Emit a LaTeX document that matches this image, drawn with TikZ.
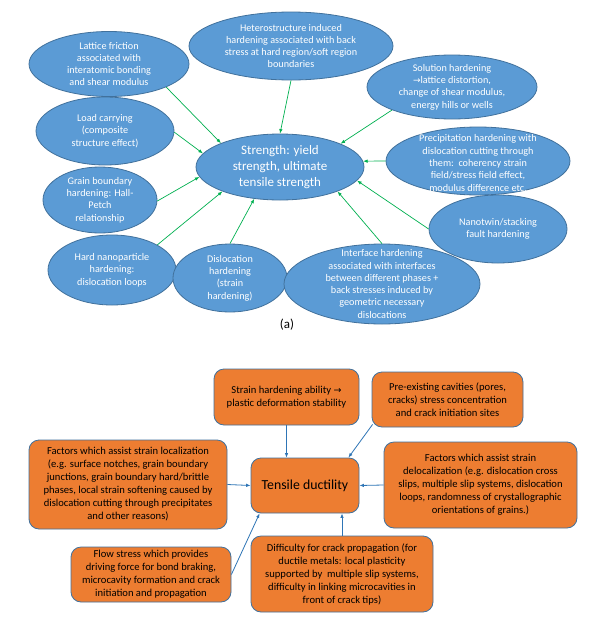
\documentclass[tikz,border=0pt]{standalone}
\usepackage{fontspec}
\setmainfont{Carlito}
\newfontfamily\symfont{DejaVu Sans}
\usetikzlibrary{shapes.geometric,arrows.meta}
\definecolor{ellfill}{HTML}{5B9BD5}
\definecolor{elldraw}{HTML}{41719C}
\definecolor{boxfill}{HTML}{ED7D31}
\definecolor{boxdraw}{HTML}{41719C}
\definecolor{garrow}{HTML}{00B050}
\definecolor{barrow}{HTML}{2E75B6}
\tikzset{
  ell/.style 2 args={ellipse, draw=elldraw, fill=ellfill, line width=0.8pt,
    minimum width=#1, minimum height=#2, inner sep=0pt},
  etext/.style={text=white, align=center, inner sep=0pt,
    font=\fontsize{10.2}{12.3}\selectfont},
  ctext/.style={text=white, align=center, inner sep=0pt,
    font=\fontsize{13}{16}\selectfont},
  obox/.style 2 args={rectangle, rounded corners=10pt, draw=boxdraw, fill=boxfill,
    line width=0.8pt, minimum width=#1, minimum height=#2, inner sep=1pt,
    align=center, text=black, font=\fontsize{10.6}{13}\selectfont},
  garr/.style={draw=garrow, line width=0.7pt, -{Latex[length=4.5pt,width=3.5pt]}},
  barr/.style={draw=barrow, line width=0.8pt, -{Latex[length=4.5pt,width=3.5pt]}},
}
\begin{document}
\begin{tikzpicture}[x=1pt,y=-1pt]
\useasboundingbox (0,0) rectangle (591,624);
\fill[white] (0,0) rectangle (591,624);

% ---- part (a): ellipses ----
\node[ell={160pt}{65pt}] (lat) at (109,64) {};
\node[etext] (latT) at (lat) {Lattice friction\\associated with\\interatomic bonding\\and shear modulus};

\node[ell={204pt}{68pt}] (het) at (291,46) {};
\node[etext] (hetT) at (het) {Heterostructure induced\\hardening associated with back\\stress at hard region/soft region\\boundaries};

\node[ell={170pt}{64pt}] (sol) at (452,87) {};
\node[etext] (solT) at (sol) {Solution hardening\\{\symfont\fontsize{9}{12.3}\selectfont →}lattice distortion,\\change of shear modulus,\\energy hills or wells};

\node[ell={138pt}{68pt}] (load) at (105,131) {};
\node[etext] (loadT) at (load) {Load carrying\\(composite\\structure effect)};

\node[ell={168pt}{66pt}] (str) at (280,167) {};
\node[ctext] (strT) at (str) {Strength: yield\\strength, ultimate\\tensile strength};

\node[ell={184pt}{68pt}] (pre) at (478,161) {};
\node[etext] (preT) at ([yshift=-2pt]pre.center) {Precipitation hardening with\\dislocation cutting through\\them:\ \ coherency strain\\field/stress field effect,\\modulus difference etc.};

\node[ell={114pt}{66pt}] (gb) at (100,200) {};
\node[etext] (gbT) at (gb) {Grain boundary\\hardening: Hall-\\Petch\\relationship};

\node[ell={128pt}{70pt}] (hn) at (112,270) {};
\node[etext] (hnT) at (hn) {Hard nanoparticle\\hardening:\\dislocation loops};

\node[ell={114pt}{68pt}] (dis) at (230,278) {};
\node[etext] (disT) at (dis) {Dislocation\\hardening\\(strain\\hardening)};

\node[ell={138pt}{68pt}] (nt) at (498,229) {};
\node[etext] (ntT) at (nt) {Nanotwin/stacking\\fault hardening};

\node[ell={196pt}{80pt}] (itf) at (382,284) {};
\node[etext] (itfT) at (itf) {Interface hardening\\associated with interfaces\\between different phases +\\back stresses induced by\\geometric necessary\\dislocations};

\node[font=\fontsize{13}{15}\selectfont, inner sep=0pt] (la) at (287,325) {(a)};

% ---- part (a): green arrows ----
\draw[garr] (lat.-22) -- (str.158);
\draw[garr] (het.-90) -- (str.90);
\draw[garr] (load.-1) -- (str.170);
\draw[garr] (sol.201) -- (str.21);
\draw[garr] (pre.180) -- (str.4);
\draw[garr] (gb.-1) -- (str.187);
\draw[garr] (hn.29) -- (str.203);
\draw[garr] (dis.90) -- (str.231);
\draw[garr] (itf.90) -- (str.-23);
\draw[garr] (nt.180) -- (str.-10);

% ---- part (b): boxes ----
\node[obox={145pt}{56pt}] (sh) at (286.5,397) {Strain hardening ability {\symfont\fontsize{9.5}{13}\selectfont →}\\plastic deformation stability};
\node[obox={151pt}{55pt}] (cav) at (447.5,399.5) {Pre-existing cavities (pores,\\cracks) stress concentration\\and crack initiation sites};
\node[obox={198pt}{89pt}] (loc) at (128,484.5) {Factors which assist strain localization\\(e.g. surface notches, grain boundary\\junctions, grain boundary hard/brittle\\phases, local strain softening caused by\\dislocation cutting through precipitates\\and other reasons)};
\node[obox={108pt}{55pt}, font=\fontsize{13.8}{16}\selectfont] (td) at (305,485.5) {Tensile ductility};
\node[obox={193pt}{86pt}] (deloc) at (480.5,485) {Factors which assist strain\\delocalization (e.g. dislocation cross\\slips, multiple slip systems, dislocation\\loops, randomness of crystallographic\\orientations of grains.)};
\node[obox={160pt}{55pt}] (flow) at (151,574.5) {Flow stress which provides\\driving force for bond braking,\\microcavity formation and crack\\initiation and propagation};
\node[obox={182pt}{76pt}] (crack) at (342,574) {Difficulty for crack propagation (for\\ductile metals: local plasticity\\supported by\ \ multiple slip systems,\\difficulty in linking microcavities in\\front of crack tips)};

% ---- part (b): blue arrows ----
\draw[barr] (sh.south) -- (sh.south |- td.north);
\draw[barr] ([xshift=1pt,yshift=3pt]cav.south west) -- ([xshift=-11pt]td.north east);
\draw[barr] (loc.east) -- (td.west);
\draw[barr] (deloc.west) -- (td.east);
\draw[barr] (flow.east) -- ([xshift=9pt]td.south west);
\draw[barr] (crack.north) -- (crack.north |- td.south);
\end{tikzpicture}
\end{document}
